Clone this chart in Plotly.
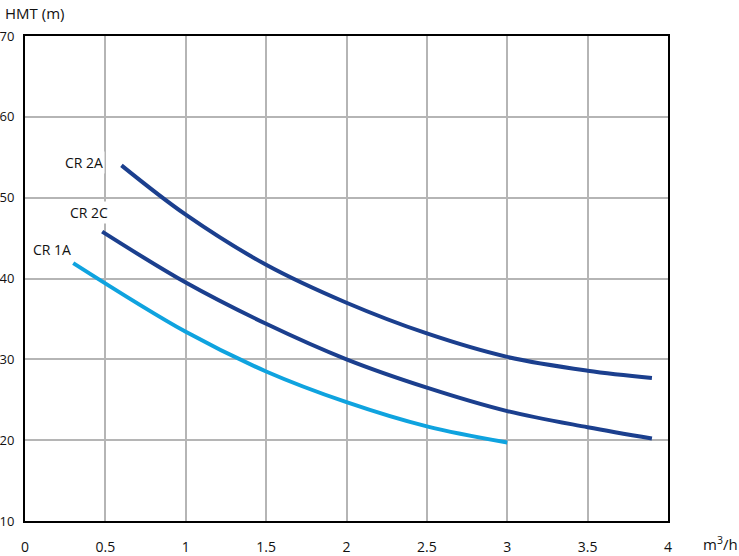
import plotly.graph_objects as go

# Data
q_2a = [0.6, 1.0, 1.5, 2.0, 2.5, 3.0, 3.5, 3.9]
h_2a = [54.0, 47.9, 41.7, 37.0, 33.2, 30.3, 28.6, 27.7]

q_2c = [0.48, 1.0, 1.5, 2.0, 2.5, 3.0, 3.5, 3.9]
h_2c = [45.8, 39.5, 34.4, 30.0, 26.5, 23.6, 21.6, 20.2]

q_1a = [0.3, 1.0, 1.5, 2.0, 2.5, 3.0]
h_1a = [41.9, 33.4, 28.5, 24.7, 21.7, 19.7]

labels = ["CR 2A", "CR 2C", "CR 1A"]
label_x = [0.37, 0.40, 0.17]
label_y = [54.4, 48.2, 43.6]

x_ticks = [0, 0.5, 1, 1.5, 2, 2.5, 3, 3.5, 4]
x_tick_text = ["0", "0.5", "1", "1.5", "2", "2.5", "3", "3.5", "4"]
y_ticks = [10, 20, 30, 40, 50, 60, 70]

dark = "#1b3f8e"
light = "#0fa3df"
FONT = "Open Sans"

fig = go.Figure()
for q, h, c in [(q_2a, h_2a, dark), (q_2c, h_2c, dark), (q_1a, h_1a, light)]:
    fig.add_trace(go.Scatter(x=q, y=h, mode="lines", line=dict(color=c, width=4, shape="spline"),
                             showlegend=False, hoverinfo="skip"))

for t, x, y in zip(labels, label_x, label_y):
    fig.add_annotation(x=x, y=y, text=t, showarrow=False, bgcolor="white",
                       font=dict(family=FONT, size=14, color="#111"), borderpad=1)

fig.add_annotation(xref="paper", yref="paper", x=0, xshift=-22, y=1.0, yshift=23, xanchor="left",
                   yanchor="middle", text="HMT (m)", showarrow=False,
                   font=dict(family=FONT, size=15, color="#111"))
fig.add_annotation(xref="paper", yref="paper", x=1.0, xshift=52, y=0, yshift=-22, xanchor="center",
                   yanchor="middle", text="m<sup>3</sup>/h", showarrow=False,
                   font=dict(family=FONT, size=15, color="#111"))

fig.update_layout(
    width=739, height=556,
    margin=dict(l=25, r=71, t=36, b=35),
    paper_bgcolor="white", plot_bgcolor="white",
    font=dict(family=FONT, color="#111"),
    xaxis=dict(range=[0, 4], tickvals=x_ticks, ticktext=x_tick_text, showgrid=True, automargin=False,
               gridcolor="#b5b5b5", gridwidth=1.5, zeroline=False, showline=True, linecolor="black",
               linewidth=2, mirror=True, ticks="", ticklabelstandoff=12,
               tickfont=dict(size=14, family=FONT)),
    yaxis=dict(range=[10, 70], tickvals=y_ticks, showgrid=True, gridcolor="#b5b5b5", gridwidth=1.5,
               automargin=False, zeroline=False, showline=True, linecolor="black", linewidth=2,
               mirror=True, ticks="", ticklabelstandoff=6, tickfont=dict(size=13, family=FONT)),
)
fig.write_html("out.html", config={"displayModeBar": False},
               post_script="document.body.style.margin='0';")
